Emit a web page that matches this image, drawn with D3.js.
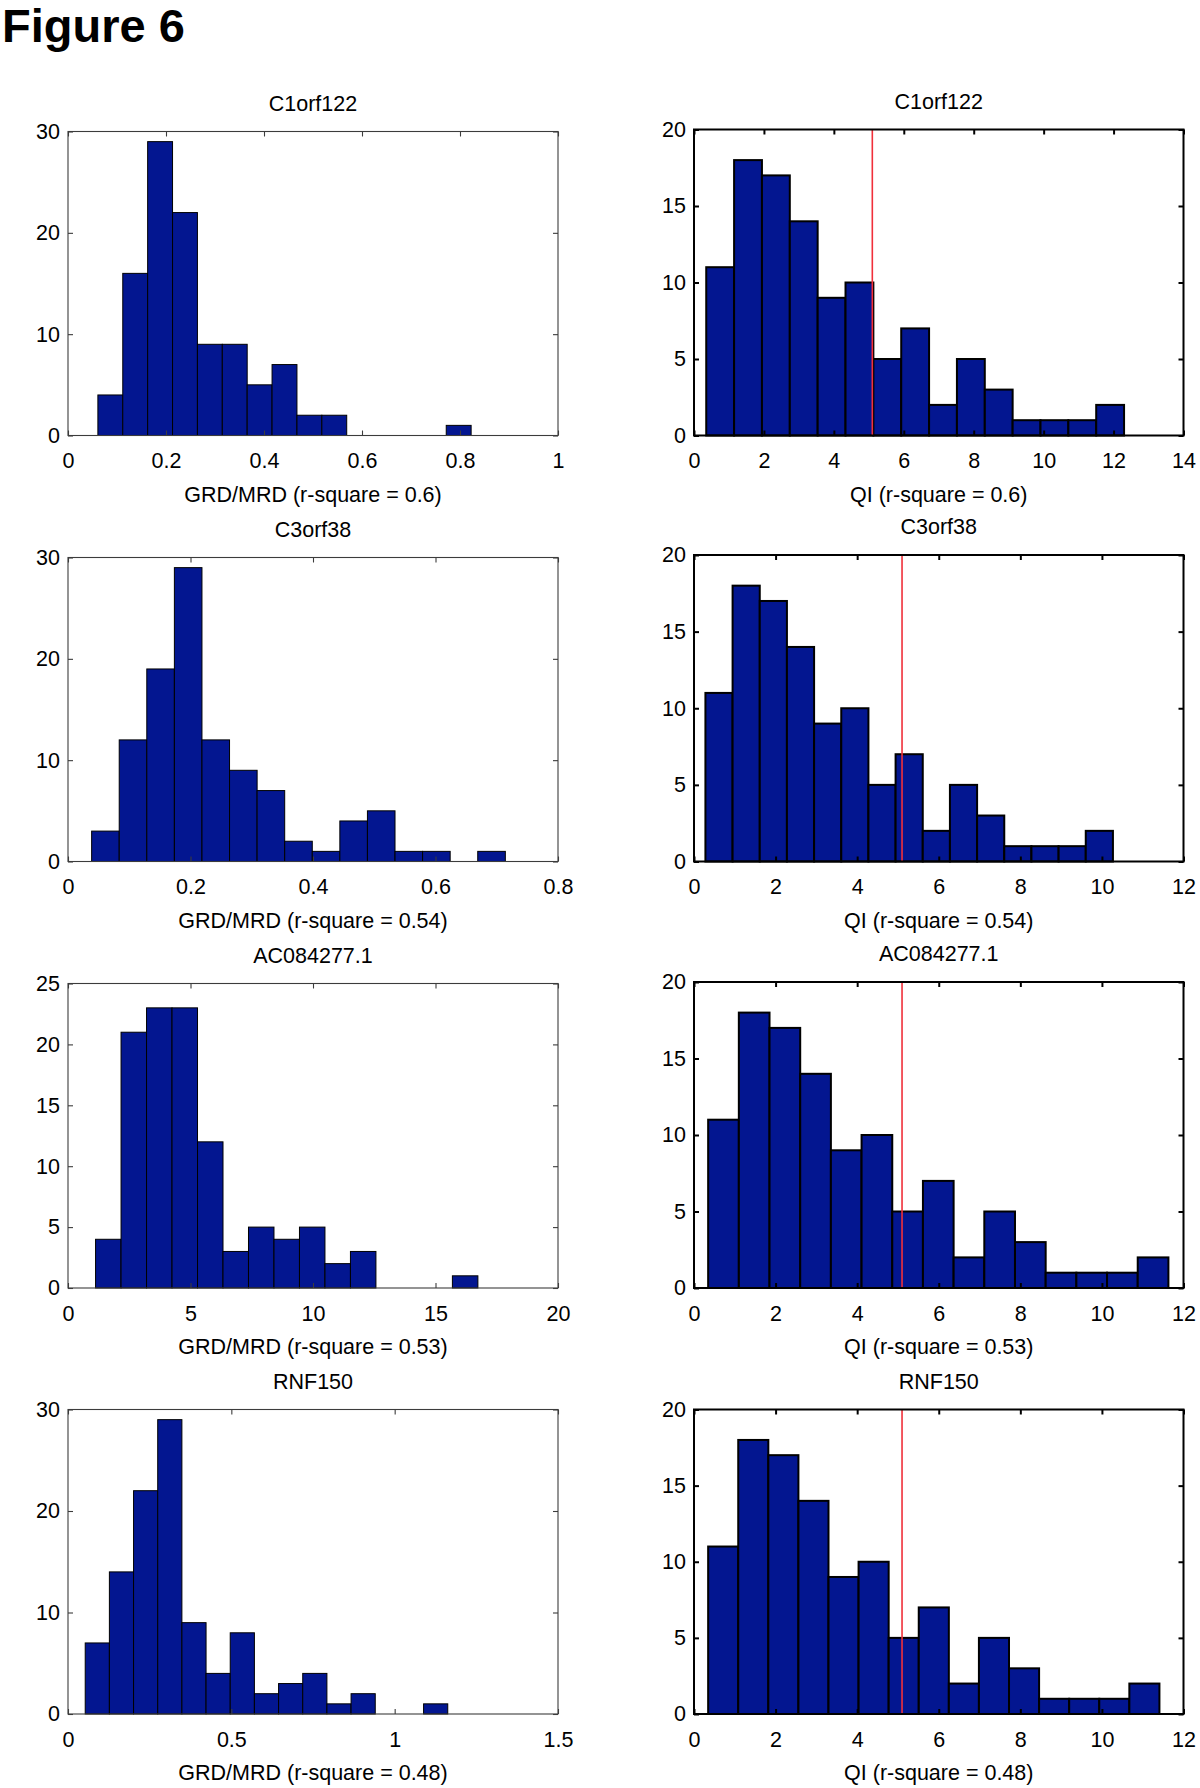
<!DOCTYPE html>
<html>
<head>
<meta charset="utf-8">
<script src="https://cdn.jsdelivr.net/npm/d3@7"></script>
<style>
  html, body { margin: 0; padding: 0; background: #fff; }
  svg { display: block; }
  text { font-family: "Liberation Sans", Arial, Helvetica, sans-serif; }
</style>
</head>
<body>
<svg id="fig" width="1200" height="1788"></svg>
<script>
// ---------------- DATA ----------------
const genes = ["C1orf122", "C3orf38", "AC084277.1", "RNF150"];
const rSquare = ["0.6", "0.54", "0.53", "0.48"];
const qiThreshold = 5.1;

// GRD/MRD histograms (15 equal bins between lo and hi)
const grdRange = [[0.061, 0.8227], [0.0386, 0.714], [1.125, 16.73], [0.0527, 1.1625]];
const grdCounts_C1orf122 = [4, 16, 29, 22, 9, 9, 5, 7, 2, 2, 0, 0, 0, 0, 1];
const grdCounts_C3orf38 = [3, 12, 19, 29, 12, 9, 7, 2, 1, 4, 5, 1, 1, 0, 1];
const grdCounts_AC084277 = [4, 21, 23, 23, 12, 3, 5, 4, 5, 2, 3, 0, 0, 0, 1];
const grdCounts_RNF150 = [7, 14, 22, 29, 9, 4, 8, 2, 3, 4, 1, 2, 0, 0, 1];

// QI histograms
const qiRange = [[0.35, 12.30], [0.28, 10.27], [0.347, 11.63], [0.347, 11.41]];
const qiCounts_C1orf122 = [11, 18, 17, 14, 9, 10, 5, 7, 2, 5, 3, 1, 1, 1, 2];
const qiCounts_C3orf38 = [11, 18, 17, 14, 9, 10, 5, 7, 2, 5, 3, 1, 1, 1, 2];
const qiCounts_AC084277 = [11, 18, 17, 14, 9, 10, 5, 7, 2, 5, 3, 1, 1, 1, 2];
const qiCounts_RNF150 = [11, 18, 17, 14, 9, 10, 5, 7, 2, 5, 3, 1, 1, 1, 2];

// axis limits and ticks
const grdXMax = [1, 0.8, 20, 1.5];
const grdXTicks = [[0, 0.2, 0.4, 0.6, 0.8, 1], [0, 0.2, 0.4, 0.6, 0.8], [0, 5, 10, 15, 20], [0, 0.5, 1, 1.5]];
const grdYMax = [30, 30, 25, 30];
const grdYTicks = [[0, 10, 20, 30], [0, 10, 20, 30], [0, 5, 10, 15, 20, 25], [0, 10, 20, 30]];
const qiXMax = [14, 12, 12, 12];
const qiXTicks = [[0, 2, 4, 6, 8, 10, 12, 14], [0, 2, 4, 6, 8, 10, 12], [0, 2, 4, 6, 8, 10, 12], [0, 2, 4, 6, 8, 10, 12]];
const qiYMax = [20, 20, 20, 20];
const qiYTicks = [[0, 5, 10, 15, 20], [0, 5, 10, 15, 20], [0, 5, 10, 15, 20], [0, 5, 10, 15, 20]];

const grdCounts = [grdCounts_C1orf122, grdCounts_C3orf38, grdCounts_AC084277, grdCounts_RNF150];
const qiCounts = [qiCounts_C1orf122, qiCounts_C3orf38, qiCounts_AC084277, qiCounts_RNF150];

// ---------------- LAYOUT ----------------
const leftX = [68, 558];
const rightX = [694, 1183.5];
const leftTops = [131.5, 557.5, 983.5, 1409.5];
const rightTops = [129.5, 555, 982, 1409.5];
const bottoms = [435.5, 861.5, 1288, 1714];
const FS = 21.5;
const BAR = "#031690";

const svg = d3.select("#fig");

svg.append("text")
  .attr("x", 2).attr("y", 41.5)
  .attr("font-size", 47).attr("font-weight", "bold")
  .attr("fill", "#000")
  .text("Figure 6");

const fmt = d => String(+d.toFixed(3));

function panel(opts) {
  const { x0, x1, top, bottom, xMax, xTicks, yMax, yTicks, range, counts, title, xlabel, bold, threshold } = opts;
  const x = d3.scaleLinear().domain([0, xMax]).range([x0, x1]);
  const y = d3.scaleLinear().domain([0, yMax]).range([bottom, top]);
  const g = svg.append("g");
  const frameColor = bold ? "#000" : "#3c3c3c";
  const frameW = bold ? 2 : 1.1;
  const n = counts.length;
  const w = (range[1] - range[0]) / n;
  const bins = counts.map((c, i) => ({ a: range[0] + i * w, b: range[0] + (i + 1) * w, c }));

  g.append("g").selectAll("rect").data(bins.filter(d => d.c > 0)).join("rect")
    .attr("x", d => x(d.a)).attr("width", d => x(d.b) - x(d.a))
    .attr("y", d => y(d.c)).attr("height", d => y(0) - y(d.c))
    .attr("fill", BAR).attr("stroke", "#000").attr("stroke-width", bold ? 2 : 1);

  if (threshold != null) {
    g.append("line")
      .attr("x1", x(threshold)).attr("x2", x(threshold))
      .attr("y1", y(0)).attr("y2", y(yMax))
      .attr("stroke", "#f0303a").attr("stroke-width", 1.6);
  }

  const tk = 5;
  const bAxis = d3.axisBottom(x).tickValues(xTicks).tickFormat(fmt).tickSize(-tk).tickSizeOuter(0).tickPadding(17.7);
  const tAxis = d3.axisTop(x).tickValues(xTicks).tickFormat("").tickSize(-tk).tickSizeOuter(0);
  const lAxis = d3.axisLeft(y).tickValues(yTicks).tickFormat(fmt).tickSize(-tk).tickSizeOuter(0).tickPadding(8);
  const rAxis = d3.axisRight(y).tickValues(yTicks).tickFormat("").tickSize(-tk).tickSizeOuter(0);

  const style = sel => {
    sel.select(".domain").remove();
    sel.selectAll(".tick line").attr("stroke", frameColor).attr("stroke-width", frameW);
    sel.selectAll(".tick text").attr("font-size", FS).attr("fill", "#000")
      .attr("font-family", '"Liberation Sans", Arial, sans-serif');
  };
  g.append("g").attr("transform", `translate(0,${bottom})`).call(bAxis).call(style);
  g.append("g").attr("transform", `translate(0,${top})`).call(tAxis).call(style);
  g.append("g").attr("transform", `translate(${x0},0)`).call(lAxis).call(style);
  g.append("g").attr("transform", `translate(${x1},0)`).call(rAxis).call(style);

  g.append("rect")
    .attr("x", x0).attr("y", top).attr("width", x1 - x0).attr("height", bottom - top)
    .attr("fill", "none").attr("stroke", frameColor).attr("stroke-width", frameW);

  g.append("text")
    .attr("x", (x0 + x1) / 2).attr("y", top - 21)
    .attr("text-anchor", "middle").attr("font-size", FS).attr("fill", "#000")
    .text(title);

  g.append("text")
    .attr("x", (x0 + x1) / 2).attr("y", bottom + 66)
    .attr("text-anchor", "middle").attr("font-size", FS).attr("fill", "#000")
    .text(xlabel);
}

genes.forEach((gene, i) => {
  panel({
    x0: leftX[0], x1: leftX[1], top: leftTops[i], bottom: bottoms[i],
    xMax: grdXMax[i], xTicks: grdXTicks[i], yMax: grdYMax[i], yTicks: grdYTicks[i],
    range: grdRange[i], counts: grdCounts[i], title: gene,
    xlabel: `GRD/MRD (r-square = ${rSquare[i]})`, bold: false, threshold: null
  });
  panel({
    x0: rightX[0], x1: rightX[1], top: rightTops[i], bottom: bottoms[i],
    xMax: qiXMax[i], xTicks: qiXTicks[i], yMax: qiYMax[i], yTicks: qiYTicks[i],
    range: qiRange[i], counts: qiCounts[i], title: gene,
    xlabel: `QI (r-square = ${rSquare[i]})`, bold: true, threshold: qiThreshold
  });
});
</script>
</body>
</html>
